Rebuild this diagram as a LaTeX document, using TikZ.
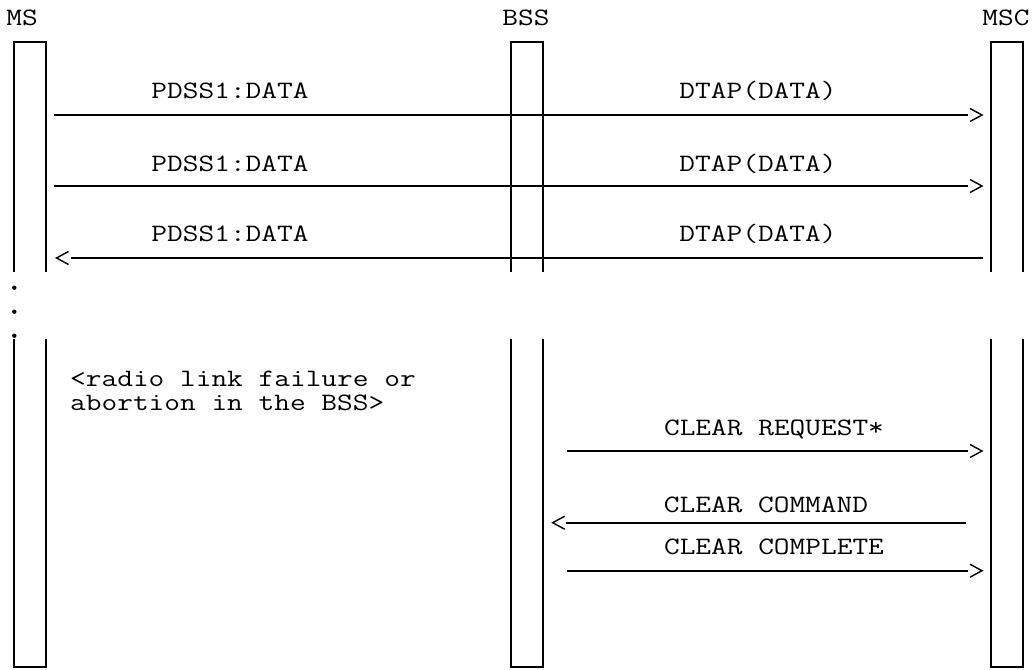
\documentclass[tikz,border=0pt]{standalone}
\usepackage{fontspec}
\newfontfamily\courfont[FakeStretch=1.22]{Latin Modern Mono}
\begin{document}
\begin{tikzpicture}[x=1pt,y=-1pt,
  life/.style={line width=2.1pt, line cap=butt, line join=miter},
  msg/.style={line width=2.1pt},
  chev/.style={line width=1.4pt, line join=miter},
  rtip/.pic={\draw[chev] (0,-6.5) -- (12,0) -- (0,6.5);},
  ltip/.pic={\draw[chev] (12,-6.5) -- (0,0) -- (12,6.5);},
  lbl/.style={font=\courfont\fontsize{25}{25}\selectfont, inner sep=0pt, anchor=base},
  lblw/.style={lbl, anchor=base west}]
\useasboundingbox (0,0) rectangle (1032,669);

% headers
\node[lbl] (ms)  at (22,25.5)   {MS};
\node[lbl] (bss) at (526,25.5)  {BSS};
\node[lbl] (msc) at (1006,25.5) {MSC};

% lifeline boxes (upper and lower parts)
\foreach \xa/\xb in {14.3/46.3, 510.7/542.7, 990.7/1022.7}{
  \draw[life] (\xa,272) -- (\xa,42) -- (\xb,42) -- (\xb,272);
  \draw[life] (\xa,339.3) -- (\xa,667) -- (\xb,667) -- (\xb,339.3);
}
% continuation dots
\foreach \yy in {287.7,311.7,335.7}{
  \fill (14.3,\yy) circle (2.2);
}

% message 1
\node[lbl] (t1a) at (230,98.2) {PDSS1:DATA};
\node[lbl] (t1b) at (758,98.2) {DTAP(DATA)};
\coordinate (m1a) at (54,115);
\coordinate (m1b) at (968,115);
\draw[msg] (m1a) -- (m1b);
\pic at ([xshift=2pt]m1b) {rtip};

% message 2
\node[lbl] (t2a) at (230,171) {PDSS1:DATA};
\node[lbl] (t2b) at (758,171) {DTAP(DATA)};
\coordinate (m2a) at (54,186);
\coordinate (m2b) at (968,186);
\draw[msg] (m2a) -- (m2b);
\pic at ([xshift=2pt]m2b) {rtip};

% message 3
\node[lbl] (t3a) at (230,241.2) {PDSS1:DATA};
\node[lbl] (t3b) at (758,241.2) {DTAP(DATA)};
\coordinate (m3a) at (71,258);
\coordinate (m3b) at (982.7,258);
\draw[msg] (m3b) -- (m3a);
\pic at ([xshift=-14.5pt]m3a) {ltip};

% note
\node[lblw] (n1) at (70,386.7) {<radio link failure or};
\node[lblw] (n2) at (70,410.7) {abortion in the BSS>};

% clear request
\node[lbl] (t4) at (774,435) {CLEAR REQUEST*};
\coordinate (m4a) at (567,451);
\coordinate (m4b) at (968,451);
\draw[msg] (m4a) -- (m4b);
\pic at ([xshift=2pt]m4b) {rtip};

% clear command
\node[lbl] (t5) at (766,512) {CLEAR COMMAND};
\coordinate (m5a) at (966,522.7);
\coordinate (m5b) at (566,522.7);
\draw[msg] (m5a) -- (m5b);
\pic at ([xshift=-13.3pt]m5b) {ltip};

% clear complete
\node[lbl] (t6) at (774,554.6) {CLEAR COMPLETE};
\coordinate (m6a) at (567,570.7);
\coordinate (m6b) at (968,570.7);
\draw[msg] (m6a) -- (m6b);
\pic at ([xshift=2pt]m6b) {rtip};
\end{tikzpicture}
\end{document}
